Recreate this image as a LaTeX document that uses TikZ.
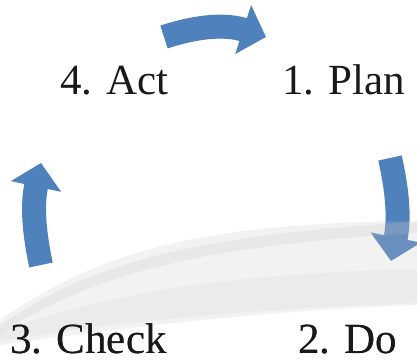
\documentclass[tikz,border=0pt]{standalone}
\usepackage{fontspec}
\setmainfont{Liberation Serif}
\newfontfamily\stagefont{Liberation Serif}
\usetikzlibrary{arrows.meta}
\definecolor{PDCABlue}{RGB}{79,129,189}
\definecolor{PDCAText}{RGB}{25,25,25}
\definecolor{SwooshGrey}{RGB}{195,195,195}

\begin{document}
\begin{tikzpicture}[
x=1pt,y=1pt,
stage/.style={
anchor=base west,
inner sep=0pt,
text=PDCAText,
font=\stagefont\fontsize{43}{50}\selectfont
},
cycarrow/.style={
-{Triangle[width=50pt,length=24pt]},
line width=24pt,
draw=PDCABlue
},
swoosh/.style={
fill=SwooshGrey,
draw=none,
opacity=0.22
}
]
\useasboundingbox (0,0) rectangle (417,361);

\node[stage] (act) at (60,266) {4. Act};
\node[stage] (plan) at (282,266) {1. Plan};
\node[stage] (check) at (10,8) {3. Check};
\node[stage] (do) at (298,8) {2. Do};

\coordinate (actout) at (164,324);
\coordinate (planin) at (266,324);
\coordinate (planout) at (390,203);
\coordinate (doin) at (391,100);
\coordinate (checkout) at (41,96);
\coordinate (actin) at (41,198);

\draw[cycarrow] (actout) to[bend left=18] (planin);
\draw[cycarrow] (planout) to[bend left=12] (doin);
\draw[cycarrow] (checkout) to[bend left=12] (actin);

\fill[swoosh] (0,41) .. controls (100,110) and (200,138) .. (417,140)
  -- (417,56) .. controls (250,50) and (100,30) .. (0,16) -- cycle;
\fill[swoosh,opacity=0.2] (0,36) .. controls (80,90) and (170,125) .. (417,139)
  -- (417,128) .. controls (180,114) and (90,82) .. (0,28) -- cycle;
\fill[swoosh,opacity=0.15] (0,30) .. controls (120,70) and (220,86) .. (417,92)
  -- (417,58) .. controls (250,52) and (120,40) .. (0,20) -- cycle;

\node[stage] at (check.base west) {3. Check};
\node[stage] at (do.base west) {2. Do};

\end{tikzpicture}
\end{document}
